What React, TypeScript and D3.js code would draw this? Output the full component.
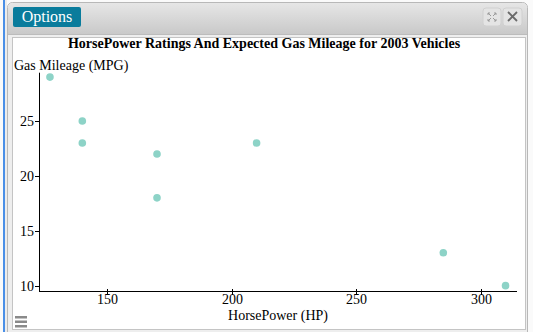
import React from "react";
import * as d3 from "d3";

const horsePower = [127, 140, 140, 170, 170, 210, 285, 310];
const gasMileage = [29, 25, 23, 22, 18, 23, 13, 10];
const xTicks = [150, 200, 250, 300];
const yTicks = [10, 15, 20, 25];
const titleText = "HorsePower Ratings And Expected Gas Mileage for 2003 Vehicles";
const xLabel = "HorsePower (HP)";
const yLabel = "Gas Mileage (MPG)";

const W = 533;
const H = 332;
const font = "'Liberation Serif', 'Times New Roman', serif";

export default function App() {
  const x = d3.scaleLinear().domain([122.6, 314.6]).range([39, 517]);
  const y = d3.scaleLinear().domain([9.45, 29.4]).range([291.7, 72.7]);
  const pts = horsePower.map((h, i) => ({ h, g: gasMileage[i] }));
  return (
    <svg
      width={W}
      height={H}
      style={{ position: "fixed", left: 0, top: 0, display: "block" }}
      fontFamily={font}
    >
      <defs>
        <linearGradient id="hdr" x1="0" y1="0" x2="0" y2="1">
          <stop offset="0" stopColor="#e6e6e6" />
          <stop offset="1" stopColor="#c9c9c9" />
        </linearGradient>
      </defs>
      <rect x={0} y={0} width={W} height={H} fill="#fafafa" />
      <rect x={3} y={0} width={2} height={H} fill="#4a8fe7" />
      <rect x={5} y={0} width={2} height={H} fill="#ececec" />
      {/* panel */}
      <rect x={7.5} y={2.5} width={520} height={340} rx={5} fill="#eeeeee" stroke="#b8b8b8" />
      <path d="M8,34 L8,8 Q8,3 13,3 L522,3 Q527,3 527,8 L527,34 Z" fill="url(#hdr)" />
      <line x1={8} x2={527} y1={34.5} y2={34.5} stroke="#bcbcbc" />
      {/* options button */}
      <rect x={13} y={7} width={68} height={20} rx={2} fill="#0a7c9c" />
      <text x={47} y={22} fill="#fff" fontSize={16} textAnchor="middle">Options</text>
      {/* window buttons */}
      <rect x={483} y={8} width={18} height={18} rx={3} fill="#e4e4e4" stroke="#d0d0d0" />
      <g stroke="#9a9a9a" strokeWidth={1} fill="none">
        <path d="M488,13 l3,3 M488,13 h2 M488,13 v2" />
        <path d="M496,13 l-3,3 M496,13 h-2 M496,13 v2" />
        <path d="M488,21 l3,-3 M488,21 h2 M488,21 v-2" />
        <path d="M496,21 l-3,-3 M496,21 h-2 M496,21 v-2" />
      </g>
      <rect x={503} y={8} width={19} height={18} rx={3} fill="#e4e4e4" stroke="#d0d0d0" />
      <path d="M508,12 L517,21 M517,12 L508,21" stroke="#6a6a6a" strokeWidth={1.8} />
      {/* chart box */}
      <rect x={12.5} y={37.5} width={513} height={292} fill="#ffffff" stroke="#c4c4c4" />
      <text x={264} y={48} fontSize={14} fontWeight="bold" textAnchor="middle" fill="#000">
        {titleText}
      </text>
      <text x={14} y={70} fontSize={14} fill="#000">{yLabel}</text>
      {/* axes */}
      <line x1={39.5} x2={39.5} y1={y.range()[1]} y2={y.range()[0]} stroke="#000" />
      <line x1={39} x2={517} y1={291.5} y2={291.5} stroke="#000" />
      {yTicks.map((t) => (
        <g key={t} transform={`translate(0,${Math.round(y(t)) + 0.5})`}>
          <line x1={35} x2={39} stroke="#000" />
          <text x={34} y={4.5} fontSize={14} textAnchor="end" fill="#000">{t}</text>
        </g>
      ))}
      {xTicks.map((t) => (
        <g key={t} transform={`translate(${Math.round(x(t)) + 0.5},0)`}>
          <line y1={289} y2={295} stroke="#000" />
          <text y={304} fontSize={14} textAnchor="middle" fill="#000">{t}</text>
        </g>
      ))}
      <text x={278} y={320} fontSize={14} textAnchor="middle" fill="#000">{xLabel}</text>
      {pts.map((p, i) => (
        <circle key={i} cx={x(p.h)} cy={y(p.g)} r={3.8} fill="#8dd3c7" />
      ))}
      {/* menu icon */}
      <g fill="#8a8a8a">
        <rect x={15} y={316} width={12} height={2.5} />
        <rect x={15} y={320.5} width={12} height={2.5} />
        <rect x={15} y={325} width={12} height={2.5} />
      </g>
    </svg>
  );
}
